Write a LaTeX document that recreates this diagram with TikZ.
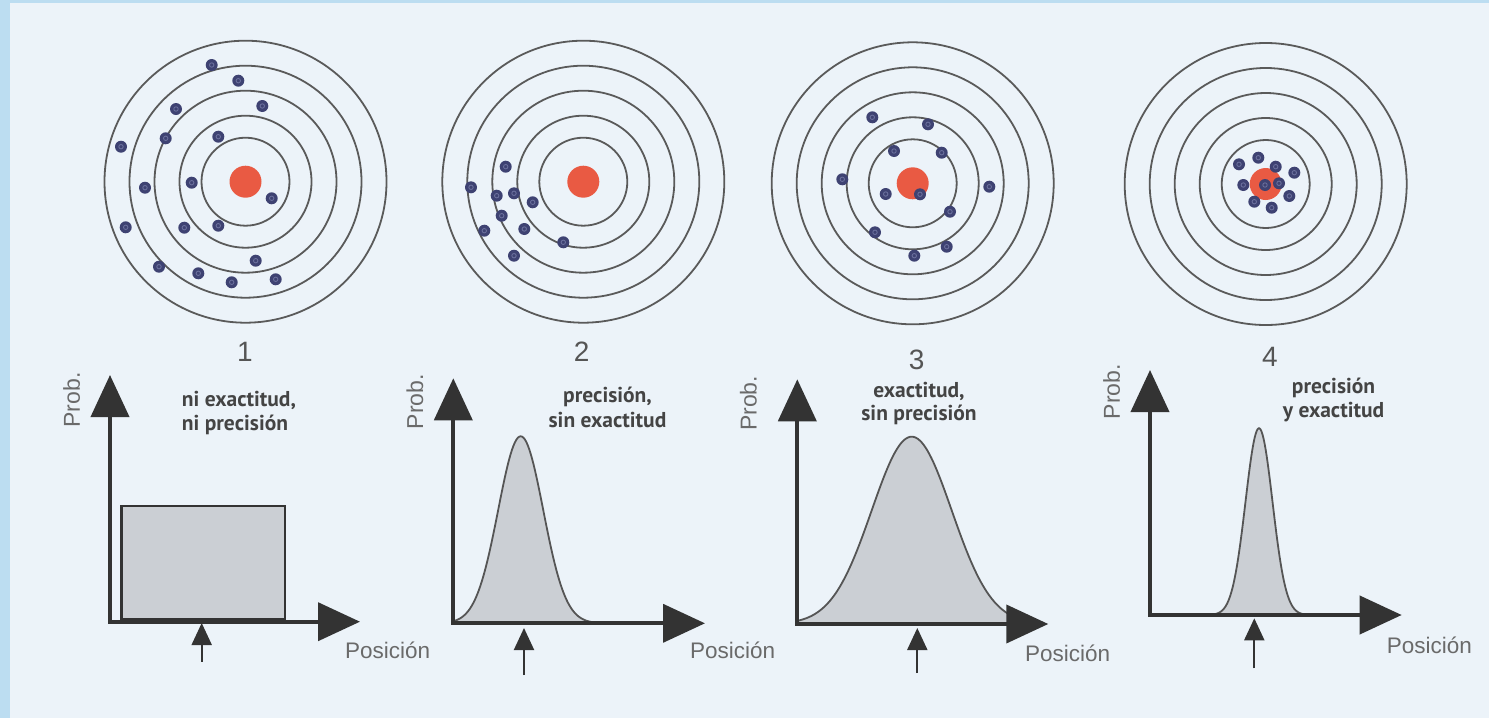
\documentclass[tikz,border=0pt]{standalone}
\usepackage{fontspec}
\setmainfont{Liberation Sans}
\newfontfamily\capfont{PT Sans}
\usetikzlibrary{arrows.meta}
\definecolor{bg}{HTML}{ECF3F9}
\definecolor{edgec}{HTML}{BCDDF1}
\definecolor{ringc}{HTML}{5A5A5A}
\definecolor{dotc}{HTML}{3E4272}
\definecolor{dotin}{HTML}{6A6F9C}
\definecolor{bull}{HTML}{E95A43}
\definecolor{axisc}{HTML}{333333}
\definecolor{areac}{HTML}{CBCFD4}
\definecolor{curvec}{HTML}{555555}
\definecolor{labc}{HTML}{6A6A6A}
\definecolor{numc}{HTML}{555555}
\definecolor{capc}{HTML}{444444}
\newcommand\drawtarget[2]{%
  \foreach \r in {141,116,91,66,44} {\draw[ringline] (#1,#2) circle[radius=\r pt];}
  \fill[bull] (#1,#2) circle[radius=16pt];}
\newcommand\shots[1]{%
  \foreach \a/\b in {#1} {\fill[dotc] (\a,\b) circle[radius=6pt];
    \draw[dotin,line width=0.9pt] (\a,\b) circle[radius=2.2pt];}}
\begin{document}
\begin{tikzpicture}[x=1pt,y=-1pt,
  ringline/.style={draw=ringc,line width=1.8pt},
  axisline/.style={draw=axisc,line width=4pt,line join=miter,
     {Triangle[length=42pt,width=38pt]}-{Triangle[length=42pt,width=38pt]}},
  markarrow/.style={draw=axisc,line width=2pt,-{Triangle[length=22pt,width=20pt]}},
  curveline/.style={draw=curvec,line width=1.8pt},
  numlabel/.style={text=numc,font=\fontsize{28}{30}\selectfont,inner sep=0pt},
  caplabel/.style={text=capc,font=\capfont\bfseries\fontsize{21.5}{23}\selectfont,inner sep=0pt},
  problabel/.style={text=labc,font=\fontsize{23}{25}\selectfont,rotate=90,inner sep=0pt},
  poslabel/.style={text=labc,font=\fontsize{22.5}{24}\selectfont,inner sep=0pt,anchor=west}]
\useasboundingbox (0,0) rectangle (1489,718);
\fill[edgec] (0,0) rectangle (1489,718);
\fill[bg] (10,3) rectangle (1489,718);

% targets
\drawtarget{245.5}{181.7}
\shots{211.7/65,238.3/80.7,176/109,262.3/106,121/146.7,165.7/138.3,218.3/136.7,145/187.7,191.7/182.7,271.7/198.3,125.7/227.3,184.3/227.7,218.3/225.7,255.7/260.7,159/266.7,198.3/273.3,231.7/282.3,275.7/279.3}
\drawtarget{583.3}{181.7}
\shots{505.7/166.7,471/187.3,496.7/195.7,514/193.3,532.7/202.3,501.7/215.7,484.3/230.7,524.3/229,563.3/242.3,514/255.7}
\drawtarget{912.7}{183.3}
\shots{872.3/117.3,928/124.3,894/151,941.7/152.7,842.3/179.3,989.3/186.7,885.7/194,920/194.3,950/211.7,875/232.3,946.7/246.7,914.3/255.7}
\drawtarget{1265.7}{184}
\shots{1239/164.3,1258.3/157.7,1275.7/166.7,1294.3/172.7,1243.3/185,1265/185,1279/183.3,1289.3/196,1254.3/201.7,1271.7/207.7}

% numbers
\node[numlabel] (n1) at (245,351.7) {1};
\node[numlabel] (n2) at (581.7,351.7) {2};
\node[numlabel] (n3) at (916.7,360) {3};
\node[numlabel] (n4) at (1270,356.7) {4};

% graph 1
\filldraw[fill=areac,draw=axisc,line width=2.5pt] (121.7,506) rectangle (285,619);
\draw[axisline] (110,375) -- (110,621.7) -- (360,621.7);
\draw[markarrow] (201.7,661.7) -- (201.7,623);
\node[caplabel,anchor=west] (c1a) at (181.7,400) {ni exactitud,};
\node[caplabel,anchor=west] (c1b) at (181.7,425) {ni precisión};
\node[problabel] (p1) at (71.7,400) {Prob.};
\node[poslabel] (x1) at (345,650) {Posición};

% graph 2
\fill[areac] plot[domain=453.3:595,samples=100] (\x,{623.3-187*exp(-0.5*((\x-520.7)/22.5)^2)}) -- (595,623.3) -- (453.3,623.3) -- cycle;
\draw[curveline] plot[domain=453.3:595,samples=100] (\x,{623.3-187*exp(-0.5*((\x-520.7)/22.5)^2)});
\draw[axisline] (453.3,378.3) -- (453.3,623.3) -- (705,623.3);
\draw[markarrow] (524,675) -- (524,628);
\node[caplabel] (c2a) at (607.5,396.7) {precisión,};
\node[caplabel] (c2b) at (607.5,420) {sin exactitud};
\node[problabel] (p2) at (415,401.7) {Prob.};
\node[poslabel] (x2) at (690,650) {Posición};

% graph 3
\fill[areac] plot[domain=797.3:1025,samples=120] (\x,{624-187.3*exp(-0.5*((\x-911.7)/40)^2)}) -- (1025,624) -- (797.3,624) -- cycle;
\draw[curveline] plot[domain=797.3:1025,samples=120] (\x,{624-187.3*exp(-0.5*((\x-911.7)/40)^2)});
\draw[axisline] (797.3,379.3) -- (797.3,624) -- (1048.3,624);
\draw[markarrow] (917.3,673) -- (917.3,628);
\node[caplabel] (c3a) at (919,391.7) {exactitud,};
\node[caplabel] (c3b) at (919,415) {sin precisión};
\node[problabel] (p3) at (748.3,403.3) {Prob.};
\node[poslabel] (x3) at (1025,653) {Posición};

% graph 4
\fill[areac] plot[domain=1209:1309,samples=100] (\x,{615-186.7*exp(-0.5*((\x-1259)/13.5)^2)}) -- (1309,615) -- (1209,615) -- cycle;
\draw[curveline] plot[domain=1209:1309,samples=100] (\x,{615-186.7*exp(-0.5*((\x-1259)/13.5)^2)});
\draw[axisline] (1150,370) -- (1150,615) -- (1401.7,615);
\draw[markarrow] (1254.3,668.3) -- (1254.3,618.3);
\node[caplabel] (c4a) at (1333.5,388.3) {precisión};
\node[caplabel] (c4b) at (1333.5,411.7) {y exactitud};
\node[problabel] (p4) at (1111.7,391.7) {Prob.};
\node[poslabel] (x4) at (1386.7,645) {Posición};
\end{tikzpicture}
\end{document}
